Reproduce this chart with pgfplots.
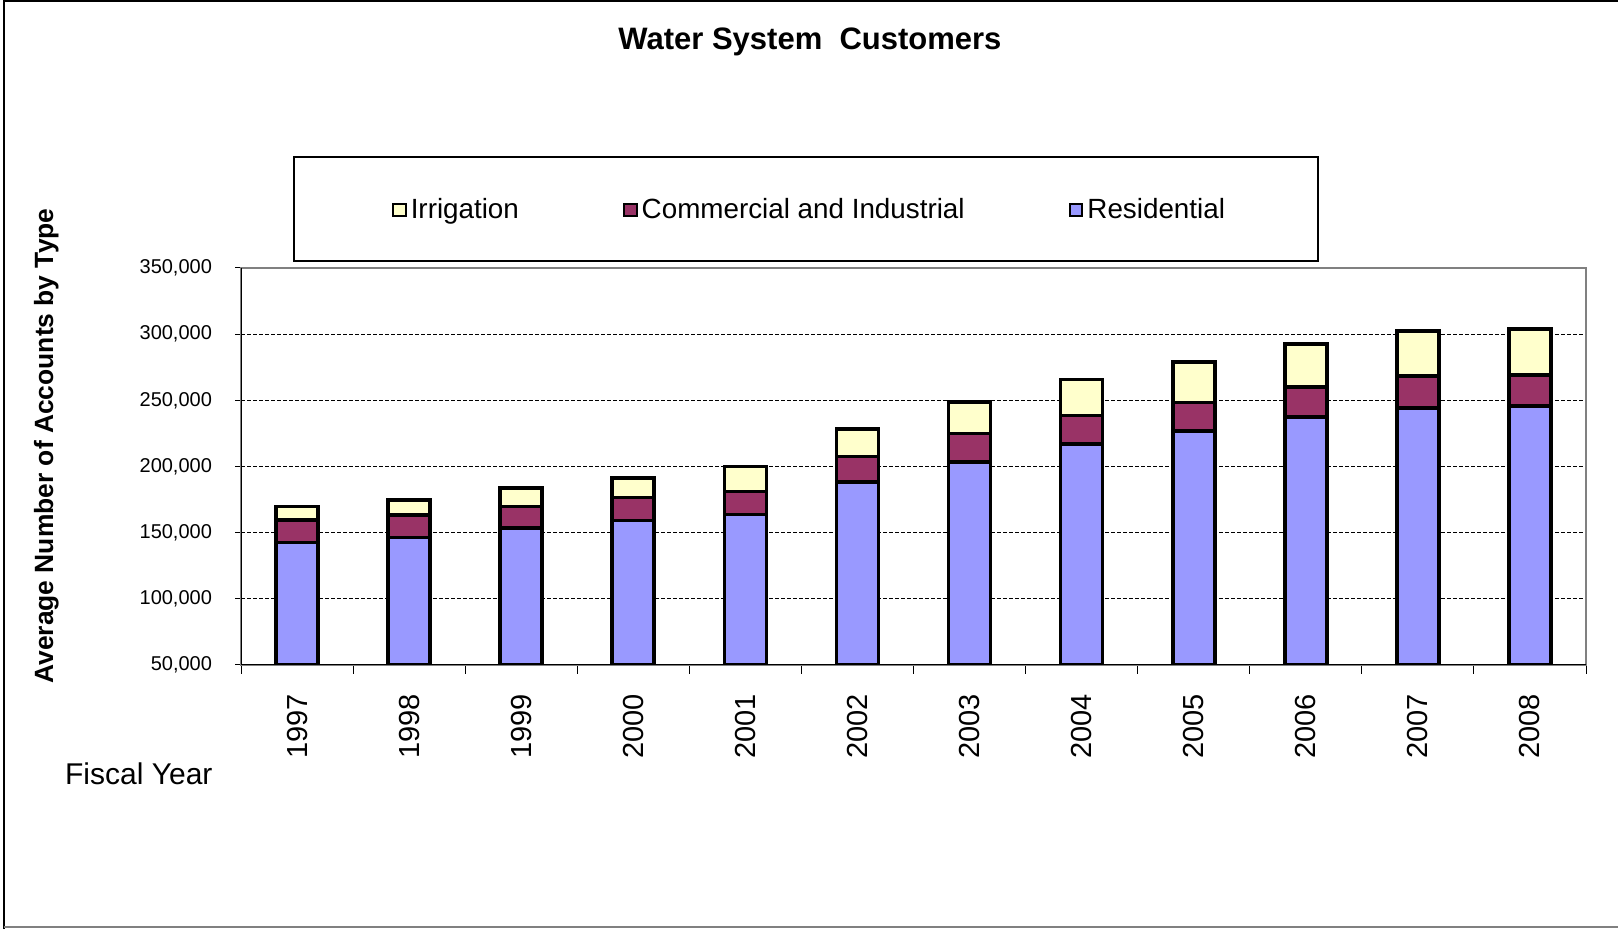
\documentclass[border=0pt]{standalone}
\usepackage{fontspec}
\setmainfont{Liberation Sans}
\usepackage{pgfplots}
\pgfplotsset{compat=1.18}
\definecolor{res}{HTML}{9999FF}
\definecolor{com}{HTML}{993366}
\definecolor{irr}{HTML}{FFFFCC}
\pgfplotstableread{
x res com irr
0 142500 17200 10100
1 146300 17200 11300
2 153400 16400 13900
3 159200 17400 14600
4 163600 17600 18800
5 188200 19400 20700
6 203300 21500 23900
7 217200 21400 27000
8 226800 21500 30700
9 237500 22700 32500
10 244300 23900 34100
11 245500 23800 34800
}\datatable
\begin{document}
\begin{tikzpicture}
\useasboundingbox (0pt,0pt) rectangle (809pt,464.5pt);
\draw[line width=1pt] (1.8pt,0pt) -- (1.8pt,464pt) -- (809pt,464pt);
\draw[gray, line width=1pt] (1.8pt,0.8pt) -- (809pt,0.8pt);
\node[font=\fontsize{15.5}{18}\selectfont\bfseries] at (405pt,443.5pt) {Water System\ \ Customers};
\node[font=\fontsize{13.2}{16}\selectfont\bfseries, rotate=90] at (23.2pt,241.5pt) {Average Number of Accounts by Type};
\node[font=\fontsize{15}{18}\selectfont] at (69.4pt,77.5pt) {Fiscal Year};
\draw[line width=0.6pt] (147pt,334pt) rectangle (659pt,386pt);
\begin{axis}[
  at={(120.5pt,132pt)}, anchor=south west,
  scale only axis, width=672.5pt, height=198.5pt,
  ybar stacked, bar width=21pt,
  xmin=-0.5, xmax=11.5, ymin=50000, ymax=350000,
  xtick={0,...,11},
  xticklabels={1997,1998,1999,2000,2001,2002,2003,2004,2005,2006,2007,2008},
  minor xtick={-0.5,0.5,...,11.5},
  ytick={50000,100000,...,350000},
  xtick pos=bottom, ytick pos=left,
  tick align=outside,
  major tick length=3pt, minor tick length=4.5pt,
  x tick style={draw=none},
  minor x tick style={draw=black, line width=0.5pt},
  y tick style={black, line width=0.5pt},
  axis line style={gray, line width=0.6pt},
  ymajorgrids,
  major grid style={black, line width=0.5pt, dash pattern=on 2pt off 1pt},
  scaled y ticks=false,
  /pgf/number format/fixed,
  /pgf/number format/1000 sep={,},
  /pgf/number format/assume math mode=true,
  yticklabel style={font=\fontsize{10}{12}\selectfont},
  yticklabel shift=8pt,
  xticklabel style={font=\fontsize{14.5}{16}\selectfont, rotate=90, anchor=east},
  xticklabel shift=8pt,
  reverse legend,
  legend columns=3,
  legend style={draw=none, fill=none, at={(0.4234,1.146)}, anchor=center,
    font=\fontsize{13.9}{16}\selectfont,
    /tikz/every even column/.append style={column sep=50pt}},
  legend image code/.code={\draw[#1, line width=1pt] (0pt,-3.2pt) rectangle (6.4pt,3.2pt);},
]
\addplot[fill=res, draw=black, line width=1.8pt] table[x=x, y=res] {\datatable};
\addlegendentry{Residential}
\addplot[fill=com, draw=black, line width=1.8pt] table[x=x, y=com] {\datatable};
\addlegendentry{Commercial and Industrial}
\addplot[fill=irr, draw=black, line width=1.8pt] table[x=x, y=irr] {\datatable};
\addlegendentry{Irrigation}
\draw[black, line width=0.8pt] (rel axis cs:0,1) -- (rel axis cs:0,0) -- (rel axis cs:1,0);
\end{axis}
\end{tikzpicture}
\end{document}
